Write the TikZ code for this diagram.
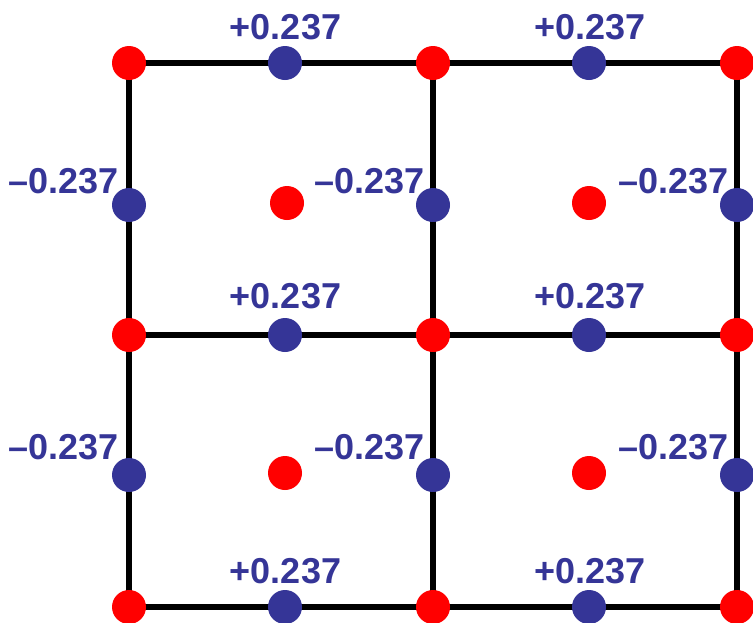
\documentclass[tikz,border=0pt]{standalone}
\usepackage{fontspec}
\setmainfont{Liberation Sans}
\usetikzlibrary{backgrounds}
\definecolor{dotblue}{HTML}{353597}
\definecolor{dotred}{HTML}{FF0000}
\tikzset{
  reddot/.style={circle,fill=dotred,inner sep=0pt,minimum size=34pt},
  bluedot/.style={circle,fill=dotblue,inner sep=0pt,minimum size=34pt},
  bond/.style={line width=5.8pt,black},
  val/.style={text=dotblue,font=\fontsize{36}{40}\selectfont\bfseries,inner sep=0pt}
}
\begin{document}
\begin{tikzpicture}[x=1pt,y=-1pt]
\useasboundingbox (0,0) rectangle (753,622);
% corners
\node[reddot] (c11) at (129,63) {};
\node[reddot] (c12) at (433,63) {};
\node[reddot] (c13) at (737,63) {};
\node[reddot] (c21) at (129,335) {};
\node[reddot] (c22) at (433,335) {};
\node[reddot] (c23) at (737,335) {};
\node[reddot] (c31) at (129,607) {};
\node[reddot] (c32) at (433,607) {};
\node[reddot] (c33) at (737,607) {};
% centers
\node[reddot] (z1) at (287,203) {};
\node[reddot] (z2) at (589,203) {};
\node[reddot] (z3) at (285,473) {};
\node[reddot] (z4) at (589,473) {};
% horizontal bond sites
\node[bluedot] (h11) at (285,63) {};
\node[bluedot] (h12) at (589,63) {};
\node[bluedot] (h21) at (285,335) {};
\node[bluedot] (h22) at (589,335) {};
\node[bluedot] (h31) at (285,607) {};
\node[bluedot] (h32) at (589,607) {};
% vertical bond sites
\node[bluedot] (v11) at (129,205) {};
\node[bluedot] (v12) at (433,205) {};
\node[bluedot] (v13) at (737,205) {};
\node[bluedot] (v21) at (129,475) {};
\node[bluedot] (v22) at (433,475) {};
\node[bluedot] (v23) at (737,475) {};
\begin{pgfonlayer}{background}
\draw[bond] (c11.center) -- (c13.center);
\draw[bond] (c21.center) -- (c23.center);
\draw[bond] (c31.center) -- (c33.center);
\draw[bond] (c11.center) -- (c31.center);
\draw[bond] (c12.center) -- (c32.center);
\draw[bond] (c13.center) -- (c33.center);
\end{pgfonlayer}
% labels
\node[val,anchor=base] (lh11) at (285.5,39) {+0.237};
\node[val,anchor=base] (lh12) at (590,39) {+0.237};
\node[val,anchor=base] (lh21) at (285.5,308) {+0.237};
\node[val,anchor=base] (lh22) at (590,308) {+0.237};
\node[val,anchor=base] (lh31) at (285.5,583) {+0.237};
\node[val,anchor=base] (lh32) at (590,583) {+0.237};
\node[val,anchor=base east] (lv11) at (119,193) {–0.237};
\node[val,anchor=base east] (lv12) at (425,193) {–0.237};
\node[val,anchor=base east] (lv13) at (729,193) {–0.237};
\node[val,anchor=base east] (lv21) at (119,459) {–0.237};
\node[val,anchor=base east] (lv22) at (425,459) {–0.237};
\node[val,anchor=base east] (lv23) at (729,459) {–0.237};
\end{tikzpicture}
\end{document}
